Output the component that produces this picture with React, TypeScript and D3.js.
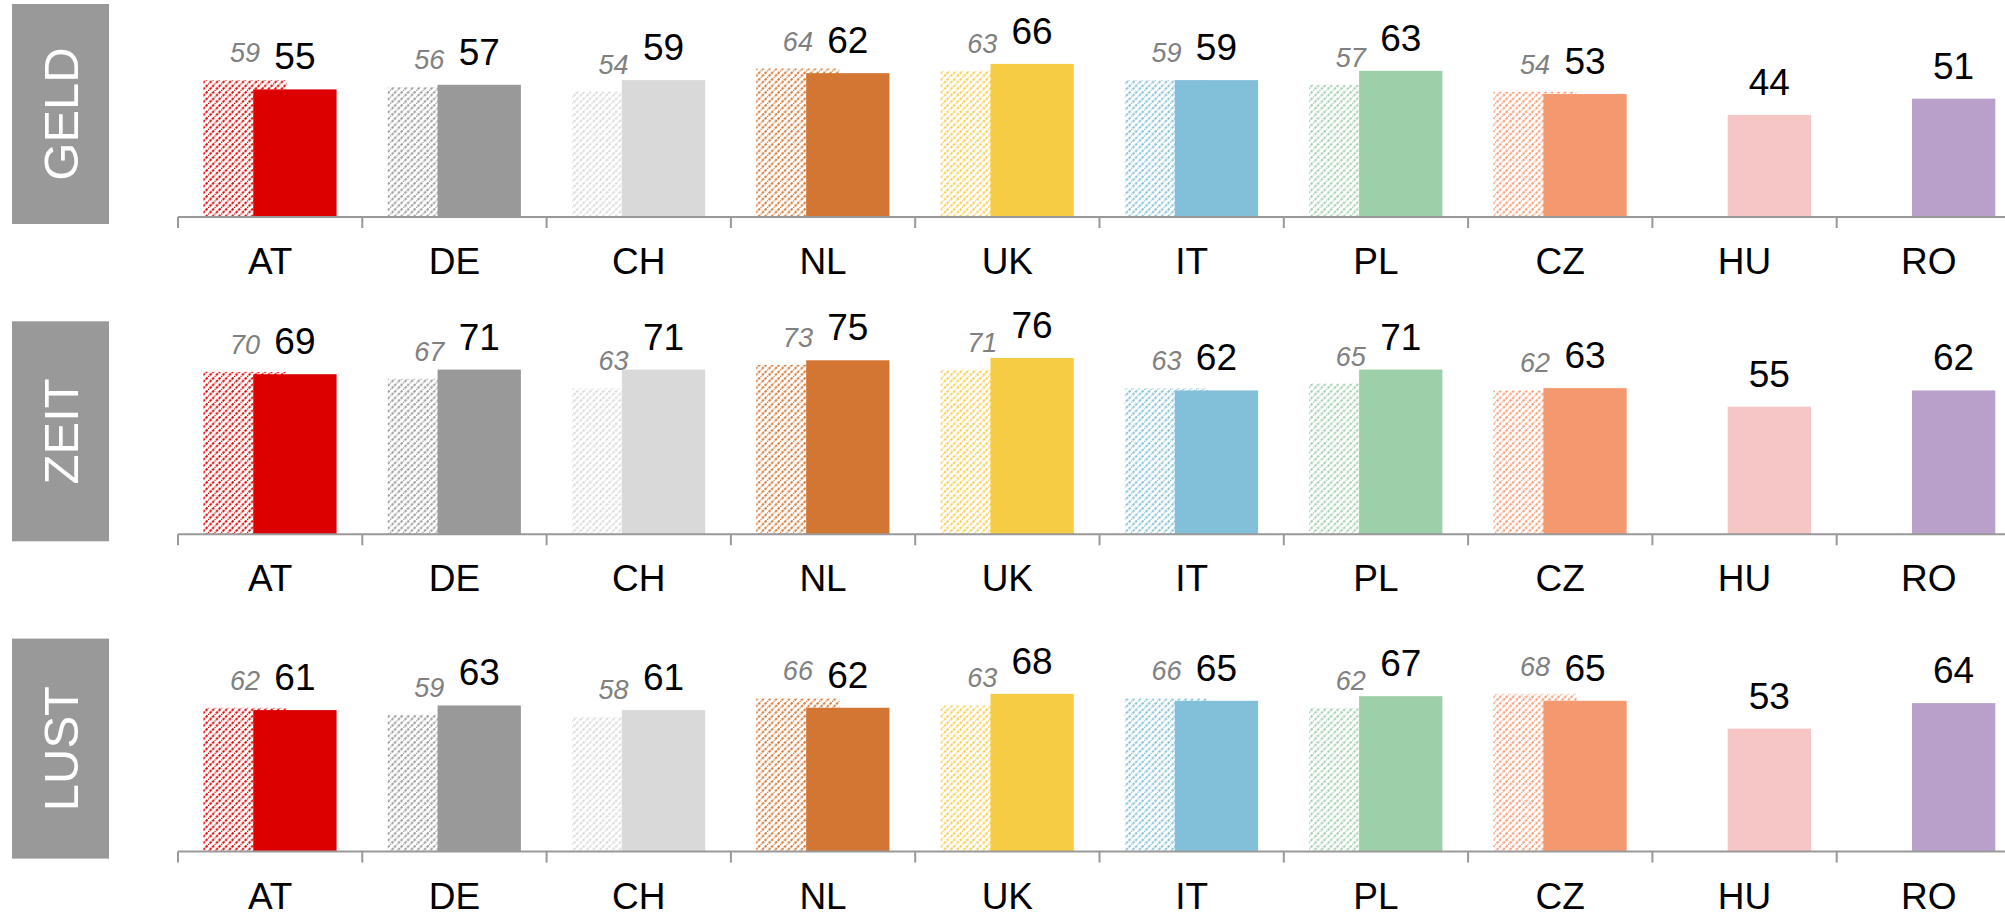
import React from "react";
import * as d3 from "d3";

const countries = ["AT", "DE", "CH", "NL", "UK", "IT", "PL", "CZ", "HU", "RO"];
const colors = ["#dd0000", "#999999", "#d9d9d9", "#d37533", "#f6cc45", "#82bfd8", "#9dcfa9", "#f4996f", "#f6c6c6", "#b9a0cb"];
const panels = ["GELD", "ZEIT", "LUST"];

const geldPrev: (number | null)[] = [59, 56, 54, 64, 63, 59, 57, 54, null, null];
const geldCurr = [55, 57, 59, 62, 66, 59, 63, 53, 44, 51];
const zeitPrev: (number | null)[] = [70, 67, 63, 73, 71, 63, 65, 62, null, null];
const zeitCurr = [69, 71, 71, 75, 76, 62, 71, 63, 55, 62];
const lustPrev: (number | null)[] = [62, 59, 58, 66, 63, 66, 62, 68, null, null];
const lustCurr = [61, 63, 61, 62, 68, 65, 67, 65, 53, 64];

const prevSeries = [geldPrev, zeitPrev, lustPrev];
const currSeries = [geldCurr, zeitCurr, lustCurr];

const W = 2005;
const H = 913;
const FONT = "'Liberation Sans', Arial, sans-serif";

export default function App() {
  const x = d3.scaleBand<string>().domain(countries).range([178, 178 + 184.3 * 10]).padding(0);
  const bw = x.bandwidth();
  const barW = bw * 0.452;
  const prevOff = bw * 0.1375;
  const currOff = bw * 0.4085;

  return (
    <svg width={W} height={H} style={{ position: "absolute", left: 0, top: 0, background: "#fff" }} fontFamily={FONT}>
      <defs>
        {colors.map((c, i) => (
          <pattern key={i} id={`hatch${i}`} width={6.5} height={6.5} patternUnits="userSpaceOnUse">
            <line x1={-1} y1={7.5} x2={7.5} y2={-1} stroke={c} strokeWidth={1.9} strokeDasharray="2.6 1.1" />
          </pattern>
        ))}
      </defs>
      {panels.map((p, pi) => {
        const axisY = 217 + pi * 317.3;
        const y = d3.scaleLinear().domain([0, 100]).range([axisY, axisY - 232]);
        const prev = prevSeries[pi];
        const curr = currSeries[pi];
        return (
          <g key={p}>
            <rect x={12} y={axisY - 213} width={97} height={220} fill="#999999" />
            <text
              transform={`translate(${60.5},${axisY - 103}) rotate(-90)`}
              textAnchor="middle"
              dominantBaseline="central"
              fill="#fff"
              fontSize={49}
            >
              {p}
            </text>
            {countries.map((c, i) => {
              const x0 = x(c)!;
              const pv = prev[i];
              return (
                <g key={c}>
                  {pv != null && (
                    <rect x={x0 + prevOff} y={y(pv)} width={barW} height={axisY - y(pv)} fill={`url(#hatch${i})`} />
                  )}
                  <rect x={x0 + currOff} y={y(curr[i])} width={barW} height={axisY - y(curr[i])} fill={colors[i]} />
                  {pv != null && (
                    <text
                      x={x0 + prevOff + barW / 2}
                      y={y(pv) - 18}
                      textAnchor="middle"
                      fontSize={27}
                      fontStyle="italic"
                      fill="#808080"
                    >
                      {pv}
                    </text>
                  )}
                  <text x={x0 + currOff + barW / 2} y={y(curr[i]) - 20} textAnchor="middle" fontSize={37} fill="#000">
                    {curr[i]}
                  </text>
                  <text x={x0 + bw / 2} y={axisY + 57} textAnchor="middle" fontSize={37} fill="#000">
                    {c}
                  </text>
                </g>
              );
            })}
            <line x1={178} x2={W + 20} y1={axisY} y2={axisY} stroke="#999" strokeWidth={2} />
            {d3.range(countries.length + 1).map((k) => (
              <line key={k} x1={178 + k * bw} x2={178 + k * bw} y1={axisY} y2={axisY + 11} stroke="#999" strokeWidth={2} />
            ))}
          </g>
        );
      })}
    </svg>
  );
}
